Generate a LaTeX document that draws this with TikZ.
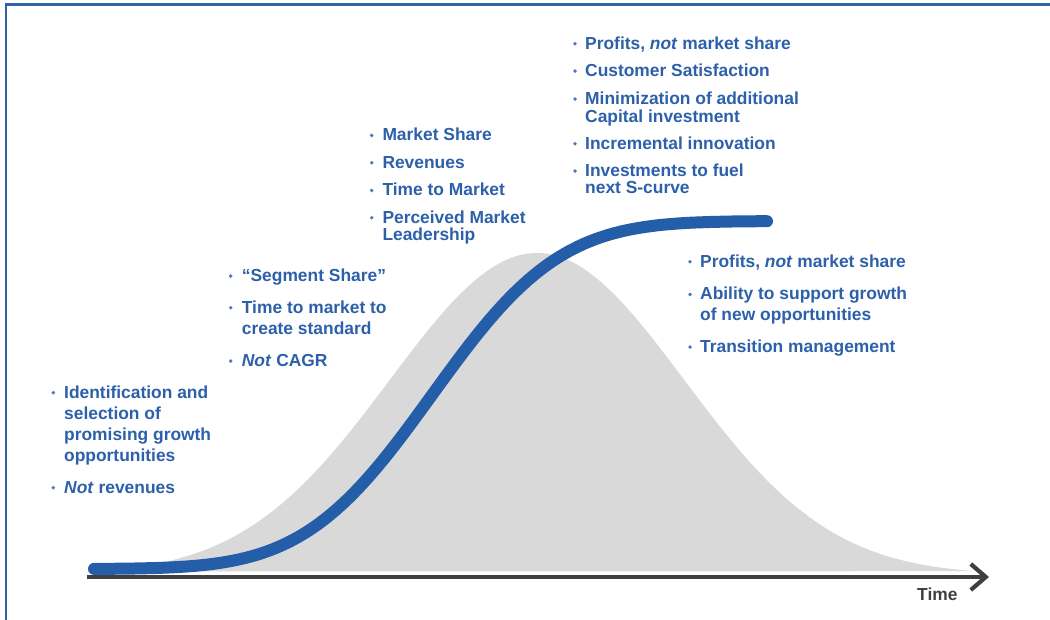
\documentclass[tikz,border=0pt]{standalone}
\usepackage{fontspec}
\setmainfont{Liberation Sans}
\usetikzlibrary{arrows.meta}
\definecolor{txtblue}{RGB}{44,96,170}
\definecolor{curveblue}{RGB}{37,94,168}
\definecolor{frameblue}{RGB}{46,99,172}
\definecolor{bellgray}{RGB}{217,217,217}
\definecolor{axisgray}{RGB}{64,64,64}
\tikzset{
  declare function={zz(\t)=(\t-432)/100.6; cdf(\t)=1/(1+exp(-(1.5976*\t+0.070566*\t*\t*\t)));},
  itemA/.style={anchor=base west, inner sep=0, text=txtblue, font=\fontsize{17.4}{21}\selectfont\bfseries},
  itemB/.style={anchor=base west, inner sep=0, text=txtblue, font=\fontsize{17.4}{16.7}\selectfont\bfseries},
  itemC/.style={anchor=base west, inner sep=0, text=txtblue, font=\fontsize{17.4}{21.5}\selectfont\bfseries},
  itemD/.style={anchor=base west, inner sep=0, text=txtblue, font=\fontsize{17.4}{20.5}\selectfont\bfseries},
  bdot/.style={circle, fill=txtblue!85!white, inner sep=0, minimum size=3.8pt},
  scurve/.style={draw=curveblue, line width=12pt, line cap=round},
  axisline/.style={draw=axisgray, line width=4.2pt, -{Straight Barb[length=15pt,width=26pt]}},
  frameline/.style={draw=frameblue, line width=2.6pt},
}
\newcommand{\lines}[1]{\begin{tabular}[t]{@{}l@{}}#1\end{tabular}}
\begin{document}
\begin{tikzpicture}[x=1pt,y=-1pt]
\useasboundingbox (0,0) rectangle (1050,620);
\fill[white] (0,0) rectangle (1050,620);
% frame
\draw[frameline] (6,640) -- (6,4.8) -- (1070,4.8);
% bell curve
\fill[bellgray] plot[domain=95:975, samples=160, smooth] (\x, {575 - 322*exp(-((\x-537)/147)*((\x-537)/147)/2)}) -- cycle;
% axis
\coordinate (axisL) at (87,577);
\coordinate (axisR) at (989,577);
\draw[axisline] (axisL) -- (axisR);
\node[anchor=base west, inner sep=0, text=axisgray, font=\fontsize{17.4}{20}\selectfont\bfseries] (time) at (917,600.7) {Time};
% S-curve
\draw[scurve] plot[domain=94:767, samples=200, smooth] (\x, {569 - 348*cdf(zz(\x))});
% group 1
\node[bdot] (b1a) at (53.3,392.7) {};
\node[itemA] (t1a) at (64,398.3) {\lines{Identification and\\selection of\\promising growth\\opportunities}};
\node[bdot] (b1b) at (53.3,487.7) {};
\node[itemA] (t1b) at (64,493.3) {\textit{Not} revenues};
% group 2
\node[bdot] (b2a) at (230.7,276.1) {};
\node[itemC] (t2a) at (241.7,281.7) {“Segment Share”};
\node[bdot] (b2b) at (230.7,307.7) {};
\node[itemC] (t2b) at (241.7,313.3) {\lines{Time to market to\\create standard}};
\node[bdot] (b2c) at (230.7,361.1) {};
\node[itemC] (t2c) at (241.7,366.7) {\textit{Not} CAGR};
% group 3
\node[bdot] (b3a) at (371.7,135.4) {};
\node[itemB] (t3a) at (382.3,141) {Market Share};
\node[bdot] (b3b) at (371.7,162.7) {};
\node[itemB] (t3b) at (382.3,168.3) {Revenues};
\node[bdot] (b3c) at (371.7,190.4) {};
\node[itemB] (t3c) at (382.3,196) {Time to Market};
\node[bdot] (b3d) at (371.7,217.7) {};
\node[itemB] (t3d) at (382.3,223.3) {\lines{Perceived Market\\Leadership}};
% group 4
\node[bdot] (b4a) at (575,43.7) {};
\node[itemB] (t4a) at (585,49.3) {Profits, \textit{not} market share};
\node[bdot] (b4b) at (575,71.1) {};
\node[itemB] (t4b) at (585,76.7) {Customer Satisfaction};
\node[bdot] (b4c) at (575,99.1) {};
\node[itemB] (t4c) at (585,104.7) {\lines{Minimization of additional\\Capital investment}};
\node[bdot] (b4d) at (575,143.7) {};
\node[itemB] (t4d) at (585,149.3) {Incremental innovation};
\node[bdot] (b4e) at (575,171.1) {};
\node[itemB] (t4e) at (585,176.7) {\lines{Investments to fuel\\next S-curve}};
% group 5
\node[bdot] (b5a) at (690,261.7) {};
\node[itemD] (t5a) at (700,267.3) {Profits, \textit{not} market share};
\node[bdot] (b5b) at (690,294.4) {};
\node[itemD] (t5b) at (700,300) {\lines{Ability to support growth\\of new opportunities}};
\node[bdot] (b5c) at (690,347.1) {};
\node[itemD] (t5c) at (700,352.7) {Transition management};
\end{tikzpicture}
\end{document}
